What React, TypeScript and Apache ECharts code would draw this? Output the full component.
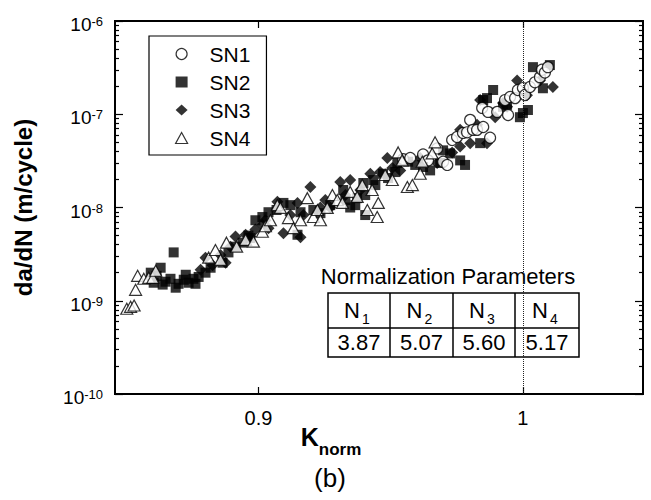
import React, { useEffect, useRef } from 'react';
import * as echarts from 'echarts';

const seriesNames = ['SN1', 'SN2', 'SN3', 'SN4'];

const sn1: [number, number][] = [
  [0.9534, 3.3e-8], [0.9561, 3.4e-8], [0.961, 3.7e-8], [0.9629, 3.2e-8], [0.9664, 4.3e-8],
  [0.9687, 3.1e-8], [0.9703, 2.86e-8], [0.9722, 5.3e-8], [0.9741, 5.7e-8], [0.9764, 6.3e-8],
  [0.978, 6.4e-8], [0.9792, 8.7e-8], [0.9803, 6.8e-8], [0.9819, 6.8e-8], [0.9843, 7.3e-8],
  [0.987, 5.6e-8], [0.9839, 1.17e-7], [0.9862, 1.06e-7], [0.9898, 1.06e-7], [0.9941, 9.8e-8],
  [0.9929, 1.42e-7], [0.9949, 1.53e-7], [0.9969, 1.49e-7], [0.998, 1.82e-7], [1.0, 1.91e-7],
  [1.0008, 1.61e-7], [1.0028, 1.96e-7], [1.0048, 2.2e-7], [1.0068, 2.5e-7], [1.0076, 3.0e-7],
  [1.0088, 2.8e-7], [1.01, 3.2e-7],
];

const sn2: [number, number][] = [
  [0.8622, 2.0e-9], [0.8632, 1.56e-9], [0.8642, 1.85e-9], [0.8656, 2.26e-9], [0.8663, 1.49e-9],
  [0.8673, 1.6e-9], [0.869, 1.72e-9], [0.8701, 3.3e-9], [0.8708, 1.38e-9], [0.8718, 1.52e-9],
  [0.8736, 1.68e-9], [0.8743, 1.9e-9], [0.8753, 1.56e-9], [0.877, 1.72e-9], [0.8777, 1.52e-9],
  [0.8788, 1.8e-9], [0.8812, 2.0e-9], [0.883, 2.26e-9], [0.8872, 2.56e-9], [0.8893, 3.3e-9],
  [0.8918, 3.8e-9], [0.8943, 4.2e-9], [0.8964, 5.0e-9], [0.8971, 4.7e-9], [0.8989, 7.3e-9],
  [0.9014, 7.9e-9], [0.9036, 8.9e-9], [0.9065, 9.4e-9], [0.909, 1.12e-8], [0.9115, 1.06e-8],
  [0.9141, 5.1e-9], [0.9152, 8.9e-9], [0.9199, 9.4e-9], [0.9225, 8.7e-9], [0.9261, 1.06e-8],
  [0.9309, 1.54e-8], [0.9317, 1.2e-8], [0.9335, 1.0e-8], [0.9354, 1.06e-8], [0.9361, 1.26e-8],
  [0.9384, 1.83e-8], [0.9391, 1.36e-8], [0.9391, 8.3e-9], [0.9421, 1.97e-8], [0.9429, 1.74e-8],
  [0.9458, 2.3e-8], [0.9477, 2.07e-8], [0.9504, 2.4e-8], [0.9512, 3.0e-8], [0.9553, 3.1e-8],
  [0.958, 2.86e-8], [0.961, 2.72e-8], [0.9637, 2.5e-8], [0.9676, 3.0e-8], [0.9687, 4.1e-8],
  [0.9714, 3.8e-8], [0.9753, 3.2e-8], [0.9772, 2.86e-8], [0.9831, 4.9e-8], [0.9843, 1.42e-7],
  [0.9858, 1.49e-7], [0.9882, 1.82e-7], [0.9921, 1.2e-7], [0.9937, 1.26e-7], [0.9988, 9.3e-8],
  [1.0, 1.03e-7], [1.002, 1.11e-7], [1.004, 3.2e-7], [1.008, 1.9e-7], [1.0108, 3.37e-7],
];

const sn3: [number, number][] = [
  [0.8795, 2.15e-9], [0.8812, 2.9e-9], [0.8837, 2.4e-9], [0.8865, 3.1e-9], [0.8883, 2.56e-9],
  [0.89, 3.8e-9], [0.8918, 4.9e-9], [0.8954, 5.1e-9], [0.8971, 4.9e-9], [0.8989, 5.8e-9],
  [0.9014, 6.5e-9], [0.9025, 7.3e-9], [0.9036, 6.0e-9], [0.9068, 1.15e-8], [0.909, 5.3e-9],
  [0.9115, 8.3e-9], [0.9141, 1.12e-8], [0.9152, 4.8e-9], [0.9163, 8.3e-9], [0.9188, 1.66e-8],
  [0.9225, 1.0e-8], [0.9243, 1.2e-8], [0.9261, 1.0e-8], [0.9298, 1.88e-8], [0.9317, 1.36e-8],
  [0.9335, 1.97e-8], [0.9373, 1.54e-8], [0.941, 2.3e-8], [0.9447, 2.4e-8], [0.9474, 3.4e-8],
  [0.9493, 2.65e-8], [0.9523, 2.5e-8], [0.9599, 3.4e-8], [0.9664, 3.0e-8], [0.9722, 3.9e-8],
  [0.9753, 4.5e-8], [0.9753, 6.8e-8], [0.9792, 4.9e-8], [0.9819, 7.7e-8], [0.9831, 1.42e-7],
  [0.9858, 4.9e-8], [0.989, 9.3e-8], [0.9921, 1.32e-7], [0.9937, 1.2e-7], [0.9977, 2.3e-7],
  [1.0016, 1.6e-7], [1.0068, 2.3e-7], [1.012, 1.96e-7],
];

const sn4: [number, number][] = [
  [0.854, 8.2e-10], [0.8553, 8.6e-10], [0.8565, 8.9e-10], [0.857, 1.31e-9], [0.8577, 1.85e-9],
  [0.8598, 1.72e-9], [0.8615, 1.76e-9], [0.8629, 1.76e-9], [0.8639, 2.1e-9], [0.8823, 2.9e-9],
  [0.8847, 3.5e-9], [0.8865, 2.75e-9], [0.8886, 4.2e-9], [0.8922, 3.8e-9], [0.8954, 4.5e-9],
  [0.8982, 4.3e-9], [0.9014, 5.5e-9], [0.9025, 6.3e-9], [0.9043, 7.3e-9], [0.9068, 1.06e-8],
  [0.9079, 9.9e-9], [0.9108, 7.7e-9], [0.9126, 6.0e-9], [0.9152, 7.3e-9], [0.9177, 1.26e-8],
  [0.9199, 7.9e-9], [0.9214, 9.4e-9], [0.9225, 7.3e-9], [0.925, 9.9e-9], [0.9269, 1.36e-8],
  [0.9287, 1.2e-8], [0.9306, 1.12e-8], [0.9335, 1.47e-8], [0.9361, 1.3e-8], [0.938, 1.74e-8],
  [0.9399, 9.4e-9], [0.9417, 1.54e-8], [0.9436, 7.9e-9], [0.944, 1.12e-8], [0.9466, 2.23e-8],
  [0.9493, 1.97e-8], [0.9515, 3.9e-8], [0.953, 3.2e-8], [0.955, 1.66e-8], [0.9569, 1.74e-8],
  [0.9599, 2.3e-8], [0.9607, 3.1e-8], [0.9645, 3.8e-8], [0.9656, 5.0e-8],
];

const xTickValues = [0.9, 1];
const xMin = 0.85;
const xMax = 1.049;
const yMinExp = -10;
const yMaxExp = -6;
const refLineK = 1;

const tableTitle = 'Normalization Parameters';
const tableSubscripts = ['1', '2', '3', '4'];
const tableValues = ['3.87', '5.07', '5.60', '5.17'];

const FONT = '"Liberation Sans", Arial, Helvetica, sans-serif';

// tick positions expressed in log10 units (for tick-only helper axes)
const yMinorLog: number[] = [];
for (let e = yMinExp; e < yMaxExp; e++) {
  for (let m = 2; m <= 9; m++) yMinorLog.push(e + Math.log10(m));
}
const yMajorLog: number[] = [];
for (let e = yMinExp; e <= yMaxExp; e++) yMajorLog.push(e);

function buildOption() {
  const axisLineStyle = { color: '#000', width: 2 };
  const tickStyle = { color: '#000', width: 1.2 };

  const xLogMin = Math.log10(xMin);
  const xLogMax = Math.log10(xMax);

  const xTickAxis = (position: 'top' | 'bottom') => ({
    type: 'value' as const,
    min: xLogMin,
    max: xLogMax,
    position,
    splitLine: { show: false },
    axisLine: { show: true, onZero: false, lineStyle: axisLineStyle },
    axisTick: { show: true, inside: true, length: 7, customValues: xTickValues.map((v) => Math.log10(v)), lineStyle: tickStyle },
    axisLabel: { show: false },
  });

  const yTickAxis = (position: 'left' | 'right', values: number[], len: number) => ({
    type: 'value' as const,
    min: yMinExp,
    max: yMaxExp,
    position,
    splitLine: { show: false },
    axisLine: { show: true, onZero: false, lineStyle: axisLineStyle },
    axisTick: { show: true, inside: true, length: len, customValues: values, lineStyle: tickStyle },
    axisLabel: { show: false },
  });

  // table geometry
  const colX = [328, 390, 453, 515, 579];
  const rowY = [293, 328, 357];
  const tableEls: any[] = [
    {
      type: 'rect',
      shape: { x: colX[0], y: rowY[0], width: colX[4] - colX[0], height: rowY[2] - rowY[0] },
      style: { fill: '#fff', stroke: '#000', lineWidth: 1.5 },
    },
    {
      type: 'line',
      shape: { x1: colX[0], y1: rowY[1], x2: colX[4], y2: rowY[1] },
      style: { stroke: '#000', lineWidth: 1.5 },
    },
  ];
  for (let i = 1; i < 4; i++) {
    tableEls.push({
      type: 'line',
      shape: { x1: colX[i], y1: rowY[0], x2: colX[i], y2: rowY[2] },
      style: { stroke: '#000', lineWidth: 1.5 },
    });
  }
  const textEl = (text: string, x: number, y: number, size: number, extra: any = {}) => ({
    type: 'text',
    style: {
      text, x, y, fontSize: size, fontFamily: FONT, fill: '#000',
      align: 'center', verticalAlign: 'middle', textAlign: 'center', textVerticalAlign: 'middle',
      ...extra,
    },
  });
  for (let i = 0; i < 4; i++) {
    const cx = (colX[i] + colX[i + 1]) / 2;
    tableEls.push(textEl('N', cx - 7, 310, 22));
    tableEls.push(textEl(tableSubscripts[i], cx + 7, 319, 14));
    tableEls.push(textEl(tableValues[i], cx, 342, 22));
  }
  tableEls.push(textEl(tableTitle, 448, 276, 22));

  const markerStyleOpen = { color: '#fff', borderColor: '#000', borderWidth: 1.2 };

  return {
    animation: false,
    backgroundColor: '#fff',
    grid: { left: 115, right: 8, top: 21, bottom: 106, containLabel: false },
    legend: {
      data: [
        { name: 'SN1', icon: 'circle', itemStyle: markerStyleOpen },
        { name: 'SN2', icon: 'rect', itemStyle: { color: '#000' } },
        { name: 'SN3', icon: 'diamond', itemStyle: { color: '#000' } },
        { name: 'SN4', icon: 'triangle', itemStyle: markerStyleOpen },
      ],
      orient: 'vertical',
      left: 149,
      top: 36,
      padding: [7, 16, 6, 26],
      itemWidth: 12,
      itemHeight: 11,
      itemGap: 6,
      borderColor: '#000',
      borderWidth: 1.2,
      backgroundColor: '#fff',
      selectedMode: false,
      textStyle: { fontSize: 21, fontFamily: FONT, color: '#000', lineHeight: 22, padding: [0, 0, 0, 17] },
    },
    xAxis: [
      {
        type: 'log',
        logBase: 10,
        min: xMin,
        max: xMax,
        position: 'bottom',
        splitLine: { show: false },
        axisLine: { show: true, onZero: false, lineStyle: axisLineStyle },
        axisTick: { show: false },
        axisLabel: {
          customValues: xTickValues,
          formatter: (v: number) => (Math.abs(v - 1) < 1e-9 ? '1' : String(Math.round(v * 10) / 10)),
          fontSize: 20,
          fontFamily: FONT,
          color: '#000',
          margin: 14,
        },
      },
      xTickAxis('bottom'),
      xTickAxis('top'),
    ],
    yAxis: [
      {
        type: 'log',
        logBase: 10,
        min: Math.pow(10, yMinExp),
        max: Math.pow(10, yMaxExp),
        position: 'left',
        splitLine: { show: false },
        axisLine: { show: true, onZero: false, lineStyle: axisLineStyle },
        axisTick: { show: false },
        axisLabel: {
          margin: 12,
          padding: [7, 0, 0, 0],
          fontSize: 19,
          fontFamily: FONT,
          color: '#000',
          formatter: (v: number) => `{b|10}{s|${Math.round(Math.log10(v))}}`,
          rich: {
            b: { fontSize: 19, fontFamily: FONT, color: '#000' },
            s: { fontSize: 13, fontFamily: FONT, color: '#000', verticalAlign: 'top' },
          },
        },
        name: 'da/dN (m/cycle)',
        nameLocation: 'middle',
        nameGap: 80,
        nameTextStyle: { fontSize: 24, fontWeight: 'bold', fontFamily: FONT, color: '#000' },
      },
      yTickAxis('left', yMajorLog, 8),
      yTickAxis('left', yMinorLog, 4),
      yTickAxis('right', yMajorLog, 8),
      yTickAxis('right', yMinorLog, 4),
    ],
    graphic: [
      {
        type: 'text',
        z: 100,
        style: {
          text: '{k|K}{n|norm}',
          x: 331,
          y: 441,
          align: 'center',
          verticalAlign: 'middle',
          textAlign: 'center',
          textVerticalAlign: 'middle',
          rich: {
            k: { fontSize: 25, fontWeight: 'bold', fontFamily: FONT, fill: '#000', color: '#000', padding: [0, 0, 8, 0] },
            n: { fontSize: 17, fontWeight: 'bold', fontFamily: FONT, fill: '#000', color: '#000', verticalAlign: 'bottom' },
          },
        },
      },
      textEl('(b)', 330, 478, 26),
      { type: 'group', z: 100, children: tableEls },
    ],
    series: [
      {
        name: 'SN3', type: 'scatter', data: sn3, symbol: 'diamond', symbolSize: 12,
        itemStyle: { color: '#000' },
        markLine: {
          silent: true, symbol: 'none', label: { show: false },
          lineStyle: { type: 'dotted', color: '#222', width: 1 },
          data: [{ xAxis: refLineK }],
        },
      },
      { name: 'SN2', type: 'scatter', data: sn2, symbol: 'rect', symbolSize: 10, itemStyle: { color: '#000' } },
      { name: 'SN1', type: 'scatter', data: sn1, symbol: 'circle', symbolSize: 11, itemStyle: markerStyleOpen },
      { name: 'SN4', type: 'scatter', data: sn4, symbol: 'triangle', symbolSize: [12, 11], itemStyle: markerStyleOpen },
    ],
  };
}

export default function App() {
  const ref = useRef<HTMLDivElement>(null);
  useEffect(() => {
    if (!ref.current) return;
    const chart = echarts.init(ref.current, null, { renderer: 'svg' });
    chart.setOption(buildOption() as any);
    return () => chart.dispose();
  }, []);
  return <div ref={ref} style={{ position: 'fixed', left: 0, top: 0, width: 651, height: 500, background: '#fff' }} />;
}
